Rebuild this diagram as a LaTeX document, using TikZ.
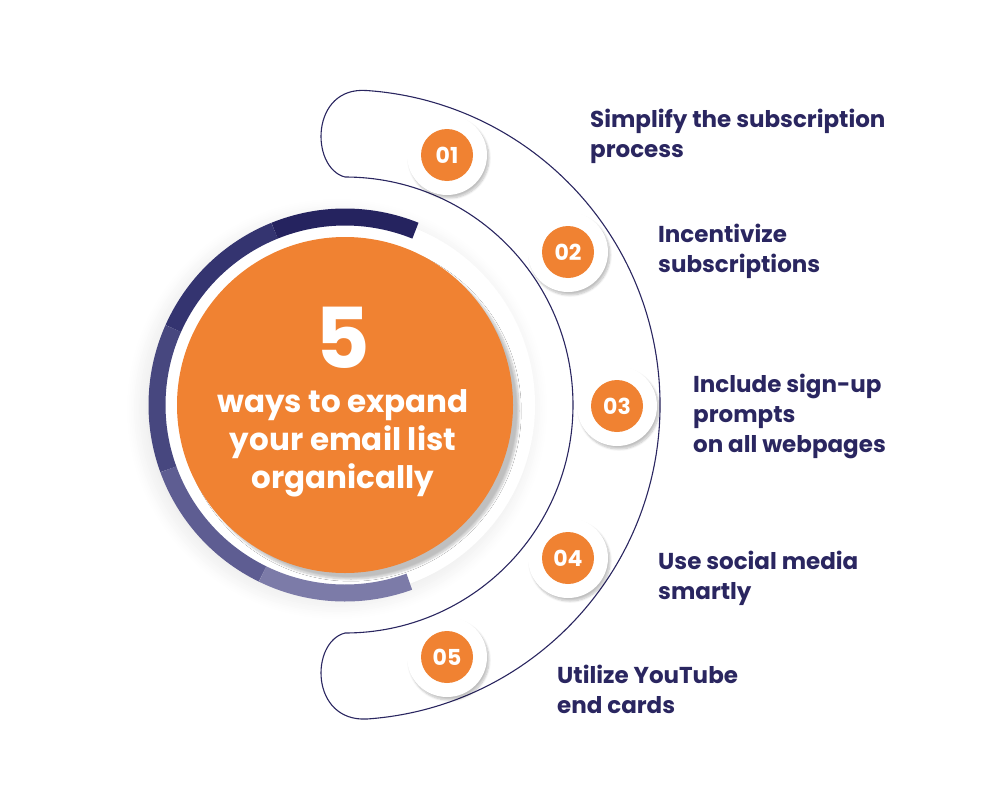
\documentclass[tikz,border=0pt]{standalone}
\usepackage{fontspec}
\setmainfont{Poppins}
\usetikzlibrary{shadows.blur,calc}
\definecolor{navy}{HTML}{2A2660}
\definecolor{org}{HTML}{F08232}
\definecolor{s1}{HTML}{25235F}
\definecolor{s2}{HTML}{343470}
\definecolor{s3}{HTML}{47477F}
\definecolor{s4}{HTML}{5E5D92}
\definecolor{s5}{HTML}{7C7BA8}
\tikzset{
  numout/.style={circle,fill=white,minimum size=80pt,inner sep=0pt,blur shadow={shadow xshift=2pt,shadow yshift=-3pt,shadow blur steps=8,shadow opacity=25}},
  numin/.style={circle,fill=org,minimum size=52pt,inner sep=0pt,text=white,font=\bfseries\fontsize{22}{22}\selectfont},
  lab/.style={anchor=north west,align=left,text=navy,inner sep=0pt,font=\bfseries\fontsize{23}{30}\selectfont},
  seg/.style={line width=17pt}
}
\begin{document}
\begin{tikzpicture}[x=1pt,y=-1pt]
\useasboundingbox (0,0) rectangle (1000,789);
% connector line
\draw[navy,line width=1.1pt] (345,177) arc[start angle=-90,end angle=90,radius=228]
  .. controls (310,642) and (310,722) .. (367,719)
  arc[start angle=86,end angle=-86,radius=315]
  .. controls (310,86) and (310,168) .. (345,177);
% central circle
\coordinate (c) at (345,405);
\fill[white,blur shadow={shadow xshift=-8pt,shadow yshift=-4pt,shadow blur steps=12,shadow opacity=12,shadow blur radius=20pt}] (c) circle (190);
\foreach \a/\b/\col in {-68/-112/s1,-112/-156/s2,-156/-200/s3,-200/-244/s4,-244/-290/s5}{
  \draw[seg,\col] ($(c)+(\a:188)$) arc[start angle=\a,end angle=\b,radius=188];
}
\node[circle,fill=org,minimum size=336pt,inner sep=0pt,blur shadow={shadow xshift=6pt,shadow yshift=-6pt,shadow blur steps=10,shadow opacity=25}] (ctr) at (c) {};
\node[text=white,font=\bfseries\fontsize{84}{84}\selectfont] (five) at (343,338) {5};
\node[text=white,align=center,font=\bfseries\fontsize{31}{38}\selectfont] (ttl) at (343,443) {ways to expand\\your email list\\organically};
% numbers
\foreach \n/\x/\y in {01/447/155,02/568/252,03/617/406,04/568/558,05/447/657}{
  \node[numout] (o\n) at (\x,\y) {};
  \node[numin] (n\n) at (\x,\y) {\n};
}
\node[lab] (l1) at (590,109) {Simplify the subscription\\process};
\node[lab] (l2) at (658,224) {Incentivize\\subscriptions};
\node[lab] (l3) at (693,374) {Include sign-up\\prompts\\on all webpages};
\node[lab] (l4) at (658,551) {Use social media\\smartly};
\node[lab] (l5) at (557,665) {Utilize YouTube\\end cards};
\end{tikzpicture}
\end{document}
